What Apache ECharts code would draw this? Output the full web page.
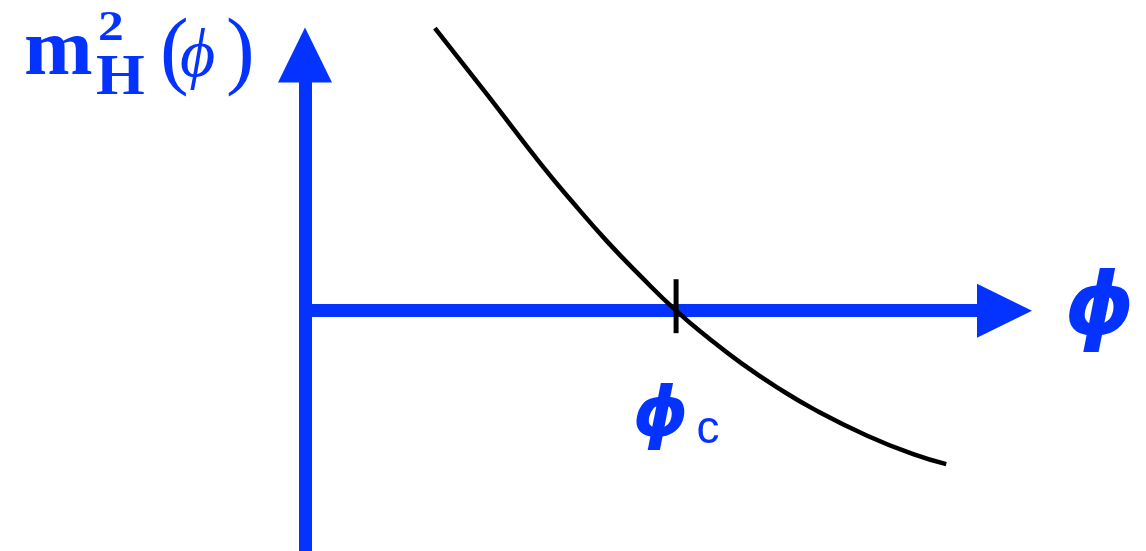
<!DOCTYPE html>
<html>
<head>
<meta charset="utf-8">
<style>
  html, body { margin: 0; padding: 0; background: #ffffff; }
  #chart { width: 1146px; height: 551px; }
</style>
<script src="https://cdn.jsdelivr.net/npm/echarts@6/dist/echarts.min.js"></script>
</head>
<body>
<div id="chart"></div>
<script>
// Higgs mass-squared as a function of the field, crossing zero at phi_c = 1
const phiValues = [0.350, 0.491, 0.633, 0.722, 0.814, 0.903, 1.000, 1.089, 1.181, 1.270, 1.377, 1.515, 1.639, 1.728];
const massSquared = [1.105, 0.845, 0.578, 0.423, 0.271, 0.137, 0.000, -0.109, -0.211, -0.298, -0.390, -0.489, -0.561, -0.600];

// critical field value and the short tick marking it
const phiCritical = 1.0;
const tickExtent = [0.123, -0.088];

// axis ranges
const xRange = [0, 1.885];
const yRange = [-0.94, 1];

const BLUE = '#0433ff';
const SANS_PHI = '"DejaVu Sans", "Liberation Sans", sans-serif';

const curveData = phiValues.map((x, i) => [x, massSquared[i]]);
const tickData = tickExtent.map(y => [phiCritical, y]);

const chart = echarts.init(document.getElementById('chart'), null, { renderer: 'canvas' });

chart.setOption({
  animation: false,
  backgroundColor: '#ffffff',
  grid: { left: 305, right: 141.5, top: 55, bottom: -1.6, containLabel: false },
  xAxis: {
    type: 'value',
    min: xRange[0],
    max: xRange[1],
    axisLine: {
      show: true,
      onZero: true,
      symbol: ['none', 'triangle'],
      symbolSize: [54, 55],
      lineStyle: { color: BLUE, width: 13, cap: 'butt' }
    },
    axisTick: { show: false },
    axisLabel: { show: false },
    splitLine: { show: false },
    name: '\u03d5',
    nameLocation: 'end',
    nameGap: 60,
    nameTextStyle: {
      color: BLUE,
      fontFamily: SANS_PHI,
      fontWeight: 'bold',
      fontStyle: 'italic',
      fontSize: 88,
      padding: [0, 0, 12, 0]
    }
  },
  yAxis: {
    type: 'value',
    min: yRange[0],
    max: yRange[1],
    axisLine: {
      show: true,
      onZero: false,
      symbol: ['none', 'triangle'],
      symbolSize: [54, 55],
      lineStyle: { color: BLUE, width: 13, cap: 'butt' }
    },
    axisTick: { show: false },
    axisLabel: { show: false },
    splitLine: { show: false }
  },
  series: [
    {
      type: 'line',
      data: curveData,
      smooth: 0.5,
      showSymbol: false,
      clip: false,
      lineStyle: { color: '#000000', width: 4.5 },
      z: 5
    },
    {
      type: 'line',
      data: tickData,
      showSymbol: false,
      clip: false,
      lineStyle: { color: '#000000', width: 5 },
      z: 6,
      markPoint: {
        symbol: 'circle',
        symbolSize: 0,
        data: [{
          coord: tickData[1],
          label: {
            show: true,
            position: 'bottom',
            distance: 28,
            formatter: '{p|\u03d5}{c|c}',
            rich: {
              p: {
                color: BLUE, fontFamily: SANS_PHI, fontWeight: 'bold',
                fontStyle: 'italic', fontSize: 70, lineHeight: 92, verticalAlign: 'bottom'
              },
              c: {
                color: BLUE, fontFamily: '"Liberation Sans", sans-serif', fontWeight: 'normal',
                fontSize: 46, lineHeight: 53, verticalAlign: 'bottom', padding: [0, 0, 0, 8]
              }
            }
          }
        }]
      }
    }
  ],
  graphic: [
    {
      type: 'group',
      children: [
        { type: 'text', x: 24, y: 53, scaleX: 1.03, style: { text: 'm', font: 'bold 80px "Liberation Serif"', fill: BLUE, align: 'left', verticalAlign: 'middle' } },
        { type: 'text', x: 98, y: 29, scaleX: 1.2, style: { text: '2', font: 'bold 43px "Liberation Serif"', fill: BLUE, align: 'left', verticalAlign: 'middle' } },
        { type: 'text', x: 96, y: 79, scaleX: 1.08, style: { text: 'H', font: 'bold 58px "Liberation Serif"', fill: BLUE, align: 'left', verticalAlign: 'middle' } },
        { type: 'text', x: 160, y: 55, style: { text: '(', font: '86px "Liberation Serif"', fill: BLUE, align: 'left', verticalAlign: 'middle' } },
        { type: 'text', x: 180, y: 58, style: { text: '\u03d5', font: 'italic 68px "Liberation Serif", "DejaVu Serif"', fill: BLUE, align: 'left', verticalAlign: 'middle' } },
        { type: 'text', x: 226, y: 55, style: { text: ')', font: '86px "Liberation Serif"', fill: BLUE, align: 'left', verticalAlign: 'middle' } }
      ]
    }
  ]
});
</script>
</body>
</html>
